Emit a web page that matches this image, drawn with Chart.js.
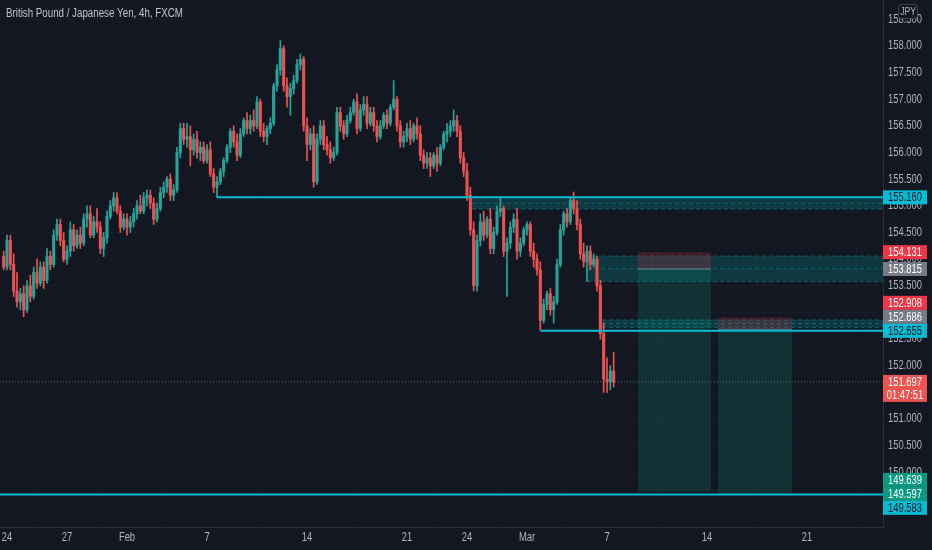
<!DOCTYPE html>
<html>
<head>
<meta charset="utf-8">
<script src="https://cdn.jsdelivr.net/npm/chart.js@4.4.1/dist/chart.umd.min.js"></script>
<style>
  html, body { margin: 0; padding: 0; background: #131722; }
  #wrap { width: 932px; height: 550px; position: relative; }
</style>
</head>
<body>
<div id="wrap"><canvas id="chart"></canvas></div>
<script>
// GBPJPY 4h, FXCM — velas (índice 0 = última vela de 21 jan)
const opens = [
  154.05,153.85,154.35,153.90,153.40,153.20,153.35,153.05,153.50,153.30,
  153.75,153.55,153.85,153.60,154.05,153.90,154.45,154.65,154.35,154.00,
  154.15,154.55,154.25,154.45,154.30,154.75,154.85,154.45,154.70,154.60,
  154.20,154.40,154.80,155.00,155.15,154.90,154.60,154.75,154.60,154.70,
  154.85,155.00,154.90,155.15,155.20,155.05,154.75,154.95,155.25,155.35,
  155.50,155.20,155.30,156.00,156.45,156.25,156.30,156.05,156.25,156.00,
  156.10,155.85,156.05,155.60,155.35,155.45,155.65,155.85,156.10,156.40,
  156.20,155.95,156.35,156.60,156.45,156.60,156.50,156.95,156.40,156.30,
  156.45,156.55,157.25,157.55,157.95,157.25,157.05,157.20,157.35,157.65,
  157.75,156.50,156.15,156.35,155.45,156.25,156.50,156.15,156.05,155.90,
  156.00,156.75,156.50,156.35,156.60,156.75,156.95,156.45,156.80,156.90,
  156.55,156.75,156.50,156.30,156.50,156.70,156.55,156.85,157.00,156.50,
  156.20,156.30,156.45,156.25,156.50,156.35,155.95,155.80,155.90,155.75,
  155.95,155.80,156.10,156.35,156.40,156.50,156.60,156.40,155.90,155.65,
  155.20,154.55,153.50,154.35,154.70,154.45,154.75,154.20,154.50,154.90,
  154.95,154.15,154.30,154.60,154.75,154.15,154.30,154.55,154.65,154.15,
  154.00,153.80,152.85,153.15,153.35,153.05,153.20,153.90,154.55,154.85,
  154.70,155.10,154.95,154.65,154.10,153.95,154.15,153.90,154.00,153.50,
  152.60,151.75,151.70,151.90
];
const highs = [
  154.15,154.45,154.45,154.10,153.75,153.45,153.50,153.60,153.70,153.85,
  154.00,153.95,153.95,154.20,154.15,154.55,154.75,154.75,154.50,154.25,
  154.70,154.65,154.55,154.60,154.85,155.00,155.00,154.80,154.95,154.70,
  154.50,154.90,155.10,155.25,155.25,155.00,154.85,154.85,154.80,154.95,
  155.10,155.20,155.25,155.30,155.30,155.15,155.05,155.35,155.45,155.55,
  155.60,155.40,156.10,156.55,156.55,156.55,156.50,156.35,156.40,156.20,
  156.20,156.15,156.20,155.70,155.55,155.70,155.90,156.15,156.45,156.50,
  156.35,156.45,156.65,156.75,156.70,156.80,157.05,157.00,156.55,156.50,
  156.65,157.30,157.65,158.10,158.00,157.40,157.30,157.45,157.75,157.85,
  157.80,156.65,156.45,156.50,156.35,156.60,156.60,156.30,156.20,156.10,
  156.85,156.85,156.60,156.70,156.85,157.00,157.10,156.90,157.05,157.05,
  156.85,156.85,156.60,156.60,156.75,156.80,156.90,157.35,157.05,156.60,
  156.40,156.55,156.60,156.55,156.65,156.50,156.05,156.00,156.00,156.00,
  156.10,156.15,156.40,156.55,156.60,156.80,156.70,156.50,156.00,155.80,
  155.35,154.70,154.45,154.85,154.90,154.80,154.95,154.60,155.00,155.15,
  155.00,154.40,154.70,154.85,154.95,154.40,154.60,154.70,154.70,154.30,
  154.10,153.95,153.25,153.40,153.45,153.30,154.00,154.65,154.90,154.95,
  155.15,155.26,155.10,154.75,154.30,154.25,154.25,154.10,154.05,153.60,
  152.80,152.15,152.00,152.25
];
const lows = [
  153.80,153.80,153.80,153.30,153.10,153.05,152.92,153.00,153.20,153.25,
  153.45,153.50,153.45,153.55,153.80,153.85,154.35,154.25,153.95,153.90,
  154.05,154.15,154.20,154.20,154.25,154.60,154.40,154.40,154.50,154.10,
  154.05,154.30,154.75,154.90,154.85,154.50,154.55,154.45,154.50,154.60,
  154.75,154.85,154.85,155.00,154.95,154.65,154.70,154.90,155.15,155.25,
  155.10,155.10,155.25,155.90,156.15,156.10,155.75,155.95,155.90,155.85,
  155.80,155.80,155.55,155.25,155.16,155.40,155.55,155.80,156.00,156.10,
  155.85,155.90,156.30,156.35,156.35,156.40,156.45,156.30,156.20,156.15,
  156.35,156.50,157.15,157.45,157.15,156.85,156.70,157.10,157.30,157.55,
  156.40,155.85,156.05,155.35,155.40,156.15,156.05,155.95,155.80,155.85,
  155.95,156.40,156.25,156.30,156.55,156.70,156.35,156.40,156.70,156.45,
  156.50,156.40,156.20,156.25,156.45,156.45,156.50,156.80,156.40,156.10,
  156.10,156.20,156.15,156.20,156.25,155.85,155.70,155.70,155.55,155.70,
  155.65,155.75,156.05,156.20,156.30,156.40,156.30,155.80,155.55,155.10,
  154.45,153.40,153.40,154.25,154.35,154.40,154.10,154.10,154.45,154.80,
  154.05,153.30,154.20,154.50,154.00,154.05,154.25,154.45,154.05,153.85,
  153.70,152.66,152.80,153.05,152.95,152.80,153.15,153.85,154.45,154.60,
  154.65,154.85,154.55,154.00,153.85,153.58,153.80,153.85,153.40,152.50,
  151.50,151.50,151.55,151.60
];
const closes = [
  153.85,154.35,153.90,153.40,153.20,153.35,153.05,153.50,153.30,153.75,
  153.55,153.85,153.60,154.05,153.90,154.45,154.65,154.35,154.00,154.15,
  154.55,154.25,154.45,154.30,154.75,154.85,154.45,154.70,154.60,154.20,
  154.40,154.80,155.00,155.15,154.90,154.60,154.75,154.60,154.70,154.85,
  155.00,154.90,155.15,155.20,155.05,154.75,154.95,155.25,155.35,155.50,
  155.20,155.30,156.00,156.45,156.25,156.30,156.05,156.25,156.00,156.10,
  155.85,156.05,155.60,155.35,155.45,155.65,155.85,156.10,156.40,156.20,
  155.95,156.35,156.60,156.45,156.60,156.50,156.95,156.40,156.30,156.45,
  156.55,157.25,157.55,157.95,157.25,157.05,157.20,157.35,157.65,157.75,
  156.50,156.15,156.35,155.45,156.25,156.50,156.15,156.05,155.90,156.00,
  156.75,156.50,156.35,156.60,156.75,156.95,156.45,156.80,156.90,156.55,
  156.75,156.50,156.30,156.50,156.70,156.55,156.85,157.00,156.50,156.20,
  156.30,156.45,156.25,156.50,156.35,155.95,155.80,155.90,155.75,155.95,
  155.80,156.10,156.35,156.40,156.50,156.60,156.40,155.90,155.65,155.20,
  154.55,153.50,154.35,154.70,154.45,154.75,154.20,154.50,154.90,154.95,
  154.15,154.30,154.60,154.75,154.15,154.30,154.55,154.65,154.15,154.00,
  153.80,152.85,153.15,153.35,153.05,153.20,153.90,154.55,154.85,154.70,
  155.10,154.95,154.65,154.10,153.95,154.15,153.90,154.00,153.50,152.60,
  151.75,151.70,151.90,151.697
];

// eixo do tempo: posição (índice de vela) e texto de cada rótulo
const xTickIdx = [1, 19, 37, 61, 91, 121, 139, 157, 181, 211, 241];
const xTickText = ['24', '27', 'Feb', '7', '14', '21', '24', 'Mar', '7', '14', '21'];
const yTicks = [149.5, 150, 150.5, 151, 151.5, 152, 152.5, 153, 153.5, 154, 154.5, 155, 155.5, 156, 156.5, 157, 157.5, 158, 158.5];

// desenhos: linhas horizontais, zonas e posições long
const hLinePrices = [155.160, 152.655, 149.583];
const hLineFrom = [64, 161, -1.1];
const zoneTop = [155.16, 154.06, 152.86];
const zoneBottom = [154.94, 153.58, 152.72];
const zoneFrom = [140.5, 175, 179.5];
const posFrom = [190.3, 214.3];
const posTo = [212.2, 236.5];
const posEntry = [153.815, 152.686];
const posStop = [154.131, 152.908];
const posTarget = [149.639, 149.597];
const lastPrice = 151.697;
const countdown = '01:47:51';

// etiquetas do eixo de preço
const tagPrices = [155.160, 154.131, 153.815, 152.908, 152.686, 152.655, 151.697, 149.639, 149.597, 149.583];
const tagKinds = ['line', 'stop', 'entry', 'stop', 'entry', 'line', 'last', 'target', 'target', 'line'];
const tagAnchor = [false, false, false, false, false, true, false, false, true, false];

(() => {
  'use strict';

  const UP = '#26a69a', DOWN = '#ef5350', CYAN = '#00bcd4', TEXT = '#b2b5be';
  const FONT = '"Liberation Sans", Arial, sans-serif';
  const SQUEEZE = 0.78; // o print original é estreito na horizontal
  const TAG_H = 14;
  const tagStyle = {
    line: { bg: CYAN, fg: '#131722' },
    stop: { bg: '#f23645', fg: '#ffffff' },
    entry: { bg: '#787b86', fg: '#ffffff' },
    last: { bg: '#ef5350', fg: '#ffffff' },
    target: { bg: '#089981', fg: '#ffffff' }
  };

  const candleColors = closes.map((c, i) => c >= opens[i] ? UP : DOWN);
  const wickData = lows.map((l, i) => ({ x: i, y: [l, highs[i]] }));
  const bodyData = opens.map((o, i) => ({ x: i, y: [o, closes[i]] }));

  function hline(ctx, x1, x2, y, color, width, dash) {
    ctx.save();
    ctx.strokeStyle = color;
    ctx.lineWidth = width;
    ctx.setLineDash(dash || []);
    ctx.beginPath();
    ctx.moveTo(x1, y);
    ctx.lineTo(x2, y);
    ctx.stroke();
    ctx.restore();
  }

  function text(ctx, str, x, y, align, size, color) {
    ctx.save();
    ctx.translate(x, y);
    ctx.scale(SQUEEZE, 1);
    ctx.font = size + 'px ' + FONT;
    ctx.textAlign = align;
    ctx.textBaseline = 'middle';
    ctx.fillStyle = color;
    ctx.fillText(str, 0, 0);
    ctx.restore();
  }

  const noPad = s => { s.paddingTop = 0; s.paddingBottom = 0; s.paddingLeft = 0; s.paddingRight = 0; };

  // zonas e posições atrás das velas
  const backDrawings = {
    id: 'backDrawings',
    beforeDatasetsDraw(chart) {
      const { ctx, chartArea: a, scales: { x, y } } = chart;
      ctx.save();
      ctx.beginPath();
      ctx.rect(a.left, a.top, a.right - a.left, a.bottom - a.top);
      ctx.clip();
      zoneTop.forEach((t, i) => {
        const x1 = x.getPixelForValue(zoneFrom[i]);
        const yt = y.getPixelForValue(t), yb = y.getPixelForValue(zoneBottom[i]);
        ctx.fillStyle = 'rgba(0,150,150,0.25)';
        ctx.fillRect(x1, yt, a.right - x1, yb - yt);
        [yt, (yt + yb) / 2, yb].forEach(yy => hline(ctx, x1, a.right, yy, 'rgba(0,188,212,0.4)', 1, [4, 3]));
      });
      posFrom.forEach((f, i) => {
        const x1 = x.getPixelForValue(f), x2 = x.getPixelForValue(posTo[i]);
        const ye = y.getPixelForValue(posEntry[i]);
        const ys = y.getPixelForValue(posStop[i]);
        const yt = y.getPixelForValue(posTarget[i]);
        ctx.fillStyle = 'rgba(242,54,69,0.2)';
        ctx.fillRect(x1, ys, x2 - x1, ye - ys);
        ctx.fillStyle = 'rgba(8,153,129,0.2)';
        ctx.fillRect(x1, ye, x2 - x1, yt - ye);
        hline(ctx, x1, x2, ye, '#787b86', 1);
      });
      ctx.restore();
    }
  };

  function layoutTags(yScale) {
    const items = tagPrices.map((p, i) => ({ i, y: yScale.getPixelForValue(p) }));
    items.sort((a, b) => a.y - b.y);
    const clusters = [];
    items.forEach(it => {
      const c = clusters[clusters.length - 1];
      if (c && tagKinds[it.i] !== 'last' && tagKinds[c[c.length - 1].i] !== 'last' && it.y - c[c.length - 1].y < TAG_H) c.push(it);
      else clusters.push([it]);
    });
    clusters.forEach(c => {
      let a = c.findIndex(it => tagAnchor[it.i]);
      if (a < 0) a = 0;
      c.forEach((it, k) => { it.cy = c[a].y + (k - a) * TAG_H; });
    });
    return items;
  }

  // rótulos dos eixos, linhas por cima das velas, etiquetas e título
  const frontDrawings = {
    id: 'frontDrawings',
    afterDraw(chart) {
      const { ctx, chartArea: a, scales: { x, y } } = chart;
      const tx = a.right + 22;

      yTicks.forEach(v => text(ctx, v.toFixed(3), tx, y.getPixelForValue(v), 'center', 12, TEXT));
      xTickIdx.forEach((v, i) => text(ctx, xTickText[i], x.getPixelForValue(v), a.bottom + 11, 'center', 12, TEXT));

      ctx.save();
      ctx.beginPath();
      ctx.rect(a.left, a.top, a.right - a.left, a.bottom - a.top);
      ctx.clip();
      hline(ctx, a.left, a.right, y.getPixelForValue(lastPrice), 'rgba(178,181,190,0.5)', 1, [1, 2]);
      hLinePrices.forEach((p, i) => {
        hline(ctx, Math.max(a.left, x.getPixelForValue(hLineFrom[i])), a.right, y.getPixelForValue(p), CYAN, 2);
      });
      ctx.restore();

      // etiquetas de preço
      layoutTags(y).forEach(it => {
        const kind = tagKinds[it.i];
        const st = tagStyle[kind];
        const h = kind === 'last' ? 27 : TAG_H;
        ctx.fillStyle = st.bg;
        ctx.fillRect(a.right, it.cy - TAG_H / 2, 44, h);
        text(ctx, tagPrices[it.i].toFixed(3), tx, it.cy + 0.5, 'center', 12, st.fg);
        if (kind === 'last') text(ctx, countdown, tx, it.cy + 13.5, 'center', 12, st.fg);
      });

      // botão da moeda
      ctx.save();
      ctx.fillStyle = '#131722';
      ctx.strokeStyle = '#434651';
      ctx.lineWidth = 1;
      ctx.beginPath();
      ctx.roundRect(898.5, 4.5, 19, 14, 3);
      ctx.fill();
      ctx.stroke();
      ctx.restore();
      text(ctx, 'JPY', 908, 12, 'center', 11, TEXT);

      // título do símbolo
      text(ctx, 'British Pound / Japanese Yen, 4h, FXCM', 6, 14, 'left', 12.5, '#c3c6ce');
    }
  };

  function render() {
    const ctx = document.getElementById('chart');
    new Chart(ctx, {
      type: 'bar',
      data: {
        datasets: [
          { data: bodyData, backgroundColor: candleColors, barThickness: 2.4, minBarLength: 1, grouped: false, borderWidth: 0 },
          { data: wickData, backgroundColor: candleColors, barThickness: 1, grouped: false, borderWidth: 0 }
        ]
      },
      options: {
        responsive: true,
        maintainAspectRatio: false,
        animation: false,
        layout: { padding: 0 },
        plugins: { legend: { display: false }, tooltip: { enabled: false }, title: { display: false } },
        scales: {
          x: {
            type: 'linear',
            min: -1.1,
            max: 263.8,
            offset: false,
            afterBuildTicks: s => { s.ticks = xTickIdx.map(v => ({ value: v })); },
            afterFit: s => { s.height = 23; noPad(s); },
            ticks: { display: false },
            grid: { color: 'rgba(42,46,57,0.22)', drawTicks: false },
            border: { color: '#2a2e39' }
          },
          y: {
            position: 'right',
            min: 148.975,
            max: 158.862,
            afterBuildTicks: s => { s.ticks = yTicks.map(v => ({ value: v })); },
            afterFit: s => { s.width = 49; noPad(s); },
            ticks: { display: false },
            grid: { color: 'rgba(42,46,57,0.22)', drawTicks: false },
            border: { color: '#2a2e39' }
          }
        }
      },
      plugins: [backDrawings, frontDrawings]
    });
  }

  render();
})();
</script>
</body>
</html>
